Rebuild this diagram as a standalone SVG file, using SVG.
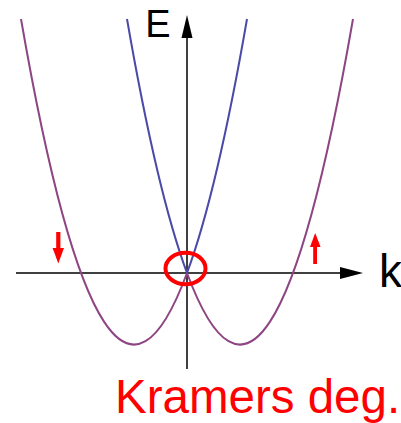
<svg xmlns="http://www.w3.org/2000/svg" width="401" height="423" viewBox="0 0 401 423">
<style>
.axis{stroke:#000;stroke-width:1.5;fill:none}
.band{fill:none;stroke-width:2}
.outer{stroke:#8e4583}
.inner{stroke:#4a4aa8}
.lbl{font-family:"Liberation Sans",Arial,sans-serif;fill:#000}
.red{fill:#ff0000}
</style>
<rect width="401" height="423" fill="#fff"/>
<g id="connectors">
<line class="axis" x1="187" y1="369" x2="187" y2="36"/>
<polygon points="187,15 181.5,38 192.5,38" fill="#000"/>
<line class="axis" x1="16" y1="273" x2="342" y2="273"/>
<polygon points="363,273 340,267 340,279" fill="#000"/>
</g>
<g id="bands">
<path class="band outer" d="M21,19 Q104,497.3 187,273"/>
<path class="band inner" d="M187,273 Q217,191.9 247,19"/>
<path class="band outer" d="M353,19 Q270,497.3 187,273"/>
<path class="band inner" d="M187,273 Q157,191.9 127,19"/>
</g>
<g id="degeneracy">
<ellipse cx="185.5" cy="268.5" rx="20" ry="15.7" fill="none" stroke="#ff0000" stroke-width="4"/>
</g>
<g id="spin-down">
<rect x="56.2" y="232" width="4.2" height="17" class="red"/>
<polygon points="52.6,248 64,248 58.3,263.5" class="red"/>
</g>
<g id="spin-up">
<rect x="313.2" y="246" width="3.8" height="18" class="red"/>
<polygon points="310,247 320.6,247 315.2,233" class="red"/>
</g>
<g id="label-E"><text class="lbl" x="145.3" y="37.3" font-size="38">E</text></g>
<g id="label-k"><text class="lbl" x="379" y="287" font-size="46">k</text></g>
<g id="label-kramers"><text class="lbl" x="115" y="413" font-size="47.5" fill="#ff0000" style="fill:#ff0000">Kramers deg.</text></g>
</svg>
